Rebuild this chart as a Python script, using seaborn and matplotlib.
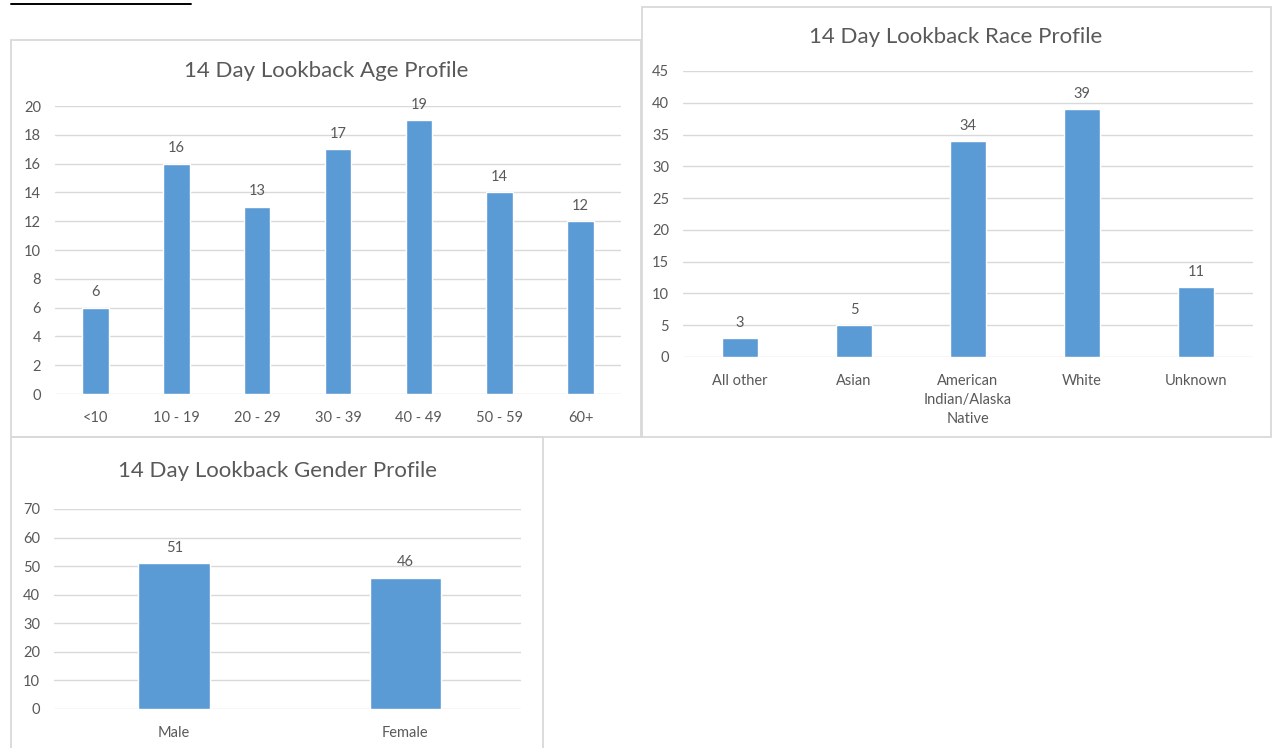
import matplotlib
matplotlib.use("Agg")
import matplotlib.pyplot as plt
import seaborn as sns
import pandas as pd
from matplotlib.patches import Rectangle
from matplotlib.lines import Line2D

age_groups = ["<10", "10 - 19", "20 - 29", "30 - 39", "40 - 49", "50 - 59", "60+"]
age_counts = [6, 16, 13, 17, 19, 14, 12]

race_groups = ["All other", "Asian", "American\nIndian/Alaska\nNative", "White", "Unknown"]
race_counts = [3, 5, 34, 39, 11]

gender_groups = ["Male", "Female"]
gender_counts = [51, 46]

sns.set_theme(style="white")
plt.rcParams["font.family"] = ["Lato", "DejaVu Sans"]

W, H = 1272, 748
fig = plt.figure(figsize=(W / 100, H / 100), dpi=100)
fig.patch.set_facecolor("white")

bar_color = "#5B9BD5"
text_color = "#595959"
grid_color = "#D9D9D9"


def px_axes(x0, x1, y_top, y_bottom):
    return fig.add_axes([x0 / W, 1 - y_bottom / H, (x1 - x0) / W, (y_bottom - y_top) / H])


def frame(x0, y0, x1, y1):
    fig.patches.append(Rectangle((x0 / W, 1 - y1 / H), (x1 - x0) / W, (y1 - y0) / H,
                                 transform=fig.transFigure, fill=False,
                                 edgecolor=grid_color, lw=1.3, zorder=0))


def draw(ax, cats, vals, ymax, step, title, title_y, title_x, width):
    df = pd.DataFrame({"cat": cats, "val": vals})
    sns.barplot(data=df, x="cat", y="val", color=bar_color, width=width,
                saturation=1, ax=ax, zorder=3)
    ax.set_ylim(0, ymax)
    ax.set_yticks(range(0, ymax + 1, step))
    ax.set_xlim(-0.5, len(cats) - 0.5)
    ax.grid(axis="y", color=grid_color, lw=1, zorder=0)
    ax.set_axisbelow(True)
    for s in ax.spines.values():
        s.set_visible(False)
    ax.set_xlabel("")
    ax.set_ylabel("")
    ax.tick_params(axis="both", length=0, colors=text_color, labelsize=10.5)
    ax.tick_params(axis="y", pad=10)
    ax.tick_params(axis="x", pad=12)
    for c in ax.containers:
        ax.bar_label(c, padding=6, color=text_color, fontsize=10.5)
    fig.text(title_x / W, 1 - title_y / H, title, ha="center", va="center",
             fontsize=16, color=text_color)


# frames
frame(11, 40, 641, 437)
frame(642, 7, 1271, 437)
frame(11, 437, 543, 752)

# cut-off underlined heading at the very top
fig.add_artist(Line2D([11 / W, 191 / W], [1 - 4 / H, 1 - 4 / H],
                      transform=fig.transFigure, color="black", lw=1.4))

ax1 = px_axes(55, 621, 106, 394)
draw(ax1, age_groups, age_counts, 20, 2, "14 Day Lookback Age Profile", 71, 326, 0.33)

ax2 = px_axes(683, 1253, 71, 357)
draw(ax2, race_groups, race_counts, 45, 5, "14 Day Lookback Race Profile", 37, 956, 0.31)
for lbl in ax2.get_xticklabels():
    lbl.set_verticalalignment("top")
    lbl.set_linespacing(1.45)

ax3 = px_axes(54, 521, 509, 709)
draw(ax3, gender_groups, gender_counts, 70, 10, "14 Day Lookback Gender Profile", 471, 277, 0.31)
ax3.set_xlim(-0.52, 1.50)

fig.savefig("out.png", dpi=100, facecolor="white")
